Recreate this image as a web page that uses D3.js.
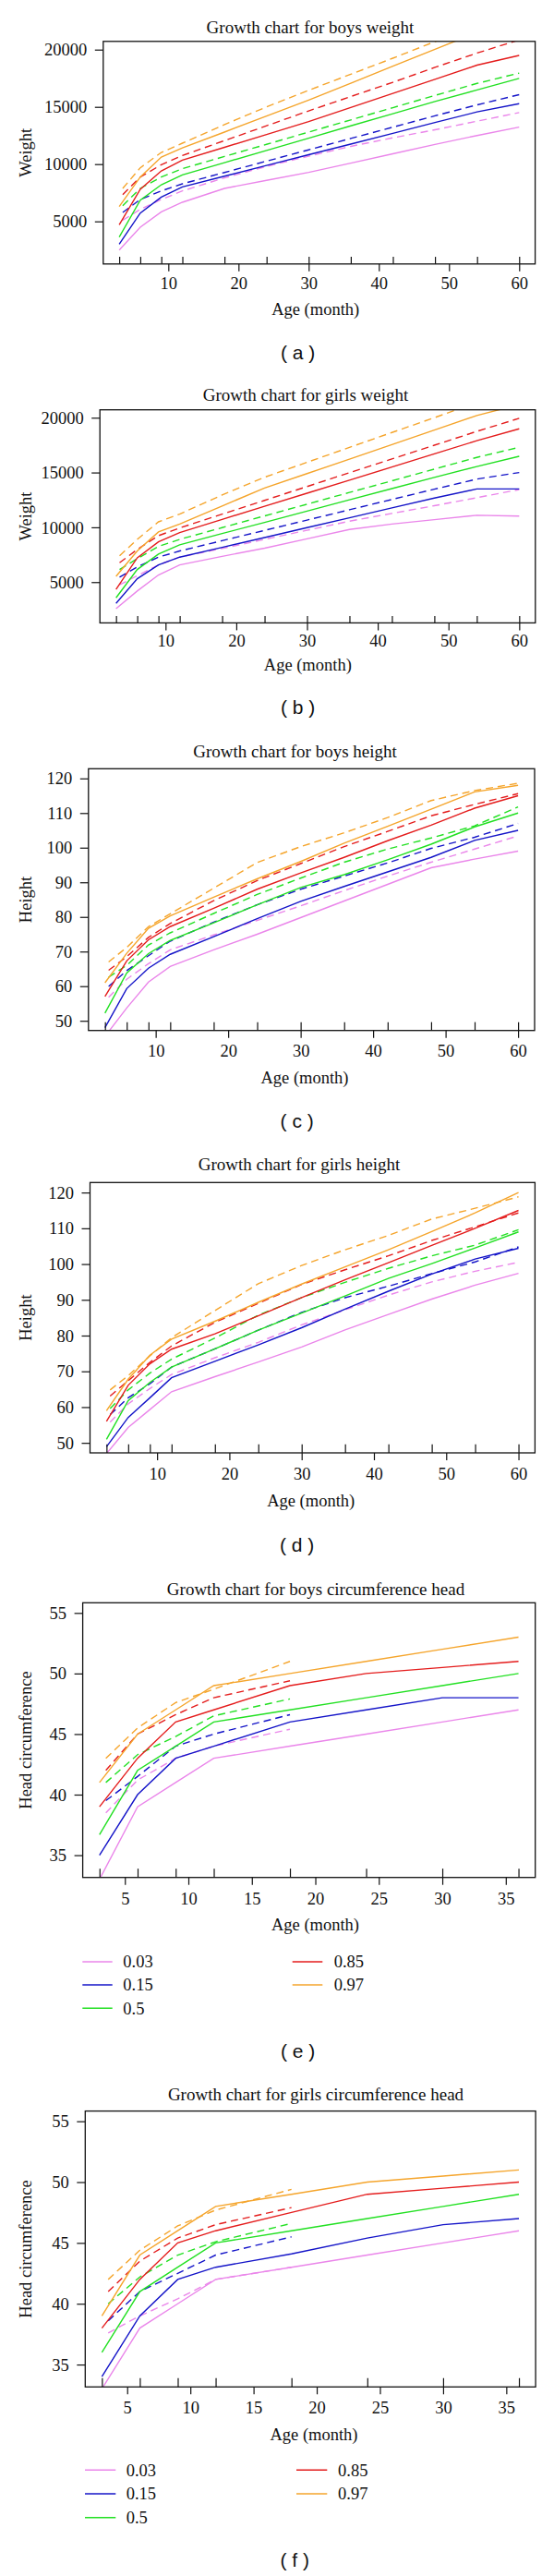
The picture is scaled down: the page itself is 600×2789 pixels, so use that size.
<!DOCTYPE html>
<html><head><meta charset="utf-8">
<script src="https://cdn.jsdelivr.net/npm/d3@7"></script>
<style>body{margin:0;background:#fff} svg{display:block}</style>
</head><body>
<svg id="chart" width="600" height="2789"></svg>
<script>
// ---------- DATA ----------
const ageMonths = [3, 6, 9, 12, 18, 24, 30, 36, 42, 48, 54, 60];
const ageMonthsRef = [3.5, 6, 9, 12, 18, 24, 30, 36, 42, 48, 54, 60];
const headAgeMonths = [3, 6, 9, 12, 18, 24, 30, 36];
const headAgeMonthsRef = [3.5, 6, 9, 12, 18];
const percentileLabels = ["0.03", "0.15", "0.5", "0.85", "0.97"];
const percentileColors = ["#EA86EA", "#1414C8", "#22E022", "#E41C1C", "#F5A52C"];

const weightTicks = [5000, 10000, 15000, 20000];
const heightTicks = [50, 60, 70, 80, 90, 100, 110, 120];
const headTicks = [35, 40, 45, 50, 55];
const ageTicks60 = [10, 20, 30, 40, 50, 60];
const ageTicks36 = [5, 10, 15, 20, 25, 30, 35];

// (a) boys weight: solid = study percentiles, dashed = reference percentiles (0.03 .. 0.97)
const boysWeightSolid = [
  [2500, 4490, 5830, 6670, 7880, 8580, 9280, 10090, 10900, 11720, 12500, 13230],
  [3010, 5730, 7120, 8010, 8950, 9880, 10820, 11750, 12690, 13630, 14560, 15280],
  [3630, 6860, 8200, 9060, 10130, 11200, 12270, 13340, 14400, 15470, 16480, 17490],
  [4710, 7800, 9410, 10350, 11470, 12590, 13710, 14940, 16180, 17410, 18650, 19490],
  [6290, 8870, 10620, 11425, 12800, 14200, 15590, 17070, 18550, 20030, 21500, 23000]
];
const boysWeightDashed = [
  [5100, 6050, 6910, 7660, 8800, 9800, 10700, 11550, 12300, 13000, 13750, 14500],
  [5780, 6910, 7660, 8280, 9270, 10260, 11250, 12240, 13230, 14220, 15170, 16070],
  [6370, 7880, 8870, 9600, 10670, 11730, 12800, 13860, 14930, 16000, 17050, 17950],
  [7340, 8870, 9950, 10750, 12050, 13350, 14650, 15900, 17150, 18450, 19700, 20850],
  [7880, 9680, 11020, 11830, 13450, 15000, 16450, 17850, 19250, 20700, 22100, 23500]
];
// (b) girls weight
const girlsWeightSolid = [
  [2580, 4190, 5650, 6570, 7350, 8100, 8950, 9800, 10300, 10700, 11100, 11020],
  [3060, 5310, 6570, 7280, 8170, 9070, 9970, 10870, 11770, 12670, 13500, 13500],
  [3570, 6150, 7560, 8400, 9430, 10450, 11480, 12510, 13530, 14560, 15550, 16480],
  [4330, 7220, 8680, 9520, 10720, 11920, 13110, 14300, 15500, 16700, 17900, 18990],
  [5530, 7840, 9580, 10300, 11950, 13580, 14900, 16220, 17540, 18870, 20200, 21200]
];
const girlsWeightDashed = [
  [4750, 5590, 6570, 7280, 8070, 8900, 9730, 10560, 11270, 11970, 12700, 13440],
  [5450, 6380, 7280, 7840, 8780, 9720, 10660, 11600, 12540, 13480, 14400, 15000],
  [6150, 7140, 8260, 8900, 9970, 11040, 12110, 13180, 14240, 15310, 16380, 17300],
  [6770, 7980, 9240, 9940, 11200, 12460, 13720, 14980, 16240, 17490, 18750, 19950],
  [7400, 8900, 10500, 11210, 12950, 14570, 15930, 17290, 18650, 20000, 21400, 22700]
];
// (c) boys height
const boysHeightSolid = [
  [45.5, 53.7, 61.2, 65.7, 70.5, 75.0, 79.8, 84.6, 89.4, 94.2, 96.7, 99.0],
  [48.0, 59.3, 65.2, 69.2, 74.3, 79.5, 84.5, 88.8, 93.0, 97.2, 102.1, 105.0],
  [52.2, 63.8, 69.4, 73.2, 78.3, 83.5, 88.5, 92.2, 96.5, 101.0, 106.0, 110.0],
  [57.0, 67.3, 73.4, 77.2, 82.5, 88.0, 92.7, 97.2, 102.0, 106.5, 111.4, 115.0],
  [61.0, 69.5, 76.7, 80.3, 85.7, 91.0, 96.0, 101.3, 106.2, 111.1, 116.1, 118.0]
];
const boysHeightDashed = [
  [56.8, 62.0, 66.5, 70.5, 74.8, 79.0, 83.2, 87.6, 91.8, 95.8, 99.6, 103.4],
  [59.9, 64.5, 68.8, 73.0, 78.5, 83.5, 88.0, 91.8, 95.6, 99.8, 103.0, 107.0],
  [62.6, 66.0, 71.9, 75.4, 81.0, 86.5, 91.2, 95.8, 99.6, 102.8, 106.3, 111.8],
  [64.6, 68.5, 74.1, 78.1, 84.7, 90.5, 95.4, 100.3, 104.7, 109.2, 112.5, 115.6],
  [67.0, 71.2, 77.2, 80.9, 88.3, 95.7, 100.3, 104.3, 108.7, 113.6, 116.5, 118.6]
];
// (d) girls height
const girlsHeightSolid = [
  [47.0, 54.3, 59.3, 64.3, 68.5, 72.6, 76.8, 81.6, 85.9, 90.2, 94.1, 97.4],
  [48.9, 57.1, 62.6, 68.2, 72.8, 77.4, 82.2, 87.4, 92.4, 97.2, 101.4, 104.4],
  [51.0, 61.8, 66.9, 71.2, 76.3, 81.5, 86.3, 91.1, 96.0, 100.1, 104.5, 109.0],
  [56.0, 66.1, 72.1, 76.2, 80.5, 85.5, 90.6, 95.6, 100.4, 105.2, 110.0, 115.0],
  [59.0, 67.8, 74.5, 79.0, 84.0, 89.3, 94.4, 99.2, 104.0, 109.1, 114.3, 120.0]
];
const girlsHeightDashed = [
  [55.8, 60.9, 65.2, 69.1, 73.8, 78.1, 83.0, 87.2, 91.3, 95.0, 98.0, 100.5],
  [57.9, 62.6, 66.5, 71.2, 76.3, 81.5, 86.5, 90.6, 93.8, 97.3, 100.6, 104.8],
  [59.6, 64.8, 69.5, 73.4, 79.3, 85.7, 90.6, 94.9, 98.8, 102.3, 105.3, 109.6],
  [63.1, 67.4, 72.5, 77.1, 83.7, 89.0, 94.3, 98.4, 102.3, 106.6, 110.4, 114.3],
  [64.8, 68.8, 74.3, 79.4, 87.0, 94.5, 99.6, 104.0, 108.0, 112.6, 115.6, 118.8]
];
// (e) boys head circumference
const boysHeadSolid = [
  [33, 39, 41, 43, 44, 45, 46, 47],
  [35, 40, 43, 44, 46, 47, 48, 48],
  [36.7, 42, 44, 46, 47, 48, 49, 50],
  [39, 43, 46, 47, 49, 50, 50.5, 51],
  [41, 45, 47, 49, 50, 51, 52, 53]
];
const boysHeadDashed = [
  [38.5, 41.2, 43.0, 44.0, 45.4],
  [39.5, 41.5, 44.0, 45.0, 46.6],
  [41.0, 43.3, 44.8, 46.5, 47.9],
  [42.0, 45.0, 46.6, 48.0, 49.4],
  [43.0, 45.5, 47.6, 48.7, 51.0]
];
// (f) girls head circumference
const girlsHeadSolid = [
  [33, 38, 40, 42, 43, 44, 45, 46],
  [34, 39, 42, 43, 44.1, 45.4, 46.5, 47],
  [36, 41, 43, 45, 46, 47, 48, 49],
  [38, 42, 45, 46, 47.5, 49, 49.5, 50],
  [39, 44, 46, 48, 49, 50, 50.5, 51]
];
const girlsHeadDashed = [
  [37.6, 39.0, 40.4, 42.0, 43.0],
  [38.6, 41.0, 42.5, 44.0, 45.5],
  [40.0, 42.2, 44.0, 45.1, 46.6],
  [41.0, 43.5, 45.4, 46.5, 47.9],
  [42.0, 44.4, 46.4, 47.7, 49.4]
];

// ---------- PANELS ----------
const panels = [
  {tag: "a", title: "Growth chart for boys weight", ylab: "Weight", solid: boysWeightSolid, dashed: boysWeightDashed,
   xs: ageMonths, xd: ageMonthsRef, xlim: [3, 60], ylim: [2000, 20000], xticks: ageTicks60, yticks: weightTicks,
   L: 111.8, R: 579.6, T: 44.8, B: 285.8, titleX: 336, titleY: 36, xlabX: 341.7, xlabY: 341, tickY: 313.4, tagX: 322.7, tagY: 388.5},
  {tag: "b", title: "Growth chart for girls weight", ylab: "Weight", solid: girlsWeightSolid, dashed: girlsWeightDashed,
   xs: ageMonths, xd: ageMonthsRef, xlim: [3, 60], ylim: [2000, 20000], xticks: ageTicks60, yticks: weightTicks,
   L: 108.2, R: 579.8, T: 443.7, B: 674.4, titleX: 331, titleY: 434.3, xlabX: 333.3, xlabY: 726, tickY: 700.4, tagX: 322.7, tagY: 772.8},
  {tag: "c", title: "Growth chart for boys height", ylab: "Height", solid: boysHeightSolid, dashed: boysHeightDashed,
   xs: ageMonths, xd: ageMonthsRef, xlim: [3, 60], ylim: [50, 120], xticks: ageTicks60, yticks: heightTicks,
   L: 95.8, R: 579.0, T: 832.3, B: 1115.7, titleX: 319.5, titleY: 820, xlabX: 330, xlabY: 1172.5, tickY: 1144.4, tagX: 321.7, tagY: 1220.5},
  {tag: "d", title: "Growth chart for girls height", ylab: "Height", solid: girlsHeightSolid, dashed: girlsHeightDashed,
   xs: ageMonths, xd: ageMonthsRef, xlim: [3, 60], ylim: [50, 120], xticks: ageTicks60, yticks: heightTicks,
   L: 97.5, R: 579.4, T: 1280.3, B: 1573, titleX: 324, titleY: 1267.3, xlabX: 336.7, xlabY: 1631, tickY: 1602.1, tagX: 321.7, tagY: 1679.8},
  {tag: "e", title: "Growth chart for boys circumference head", ylab: "Head circumference", solid: boysHeadSolid, dashed: boysHeadDashed,
   xs: headAgeMonths, xd: headAgeMonthsRef, xlim: [3, 36], ylim: [34, 55], xticks: ageTicks36, yticks: headTicks,
   L: 89.6, R: 579.7, T: 1735.3, B: 2032.7, titleX: 342, titleY: 1726.7, xlabX: 341.5, xlabY: 2090.3, tickY: 2062.1, tagX: 322.7, tagY: 2227.8,
   legend: {rows: [2124, 2149, 2174.3], cols: [[89.3, 121.7, 133.3], [316.7, 349.3, 361.7]]}},
  {tag: "f", title: "Growth chart for girls circumference head", ylab: "Head circumference", solid: girlsHeadSolid, dashed: girlsHeadDashed,
   xs: headAgeMonths, xd: headAgeMonthsRef, xlim: [3, 36], ylim: [34, 55], xticks: ageTicks36, yticks: headTicks,
   L: 92.3, R: 580.1, T: 2285.6, B: 2584.3, titleX: 342, titleY: 2274, xlabX: 340, xlabY: 2641.6, tickY: 2613.4, tagX: 319.3, tagY: 2778.8,
   legend: {rows: [2674.3, 2700, 2725.7], cols: [[92, 125.3, 136.7], [321, 354.3, 366]]}}
];

const SERIF = "'Liberation Serif', 'Times New Roman', serif";
const SANS = "'Liberation Sans', Arial, sans-serif";
const FS = 18.5;

const svg = d3.select("#chart");
svg.append("rect").attr("width", 600).attr("height", 2789).attr("fill", "#fff");

function ext(lim) { const r = lim[1] - lim[0]; return [lim[0] - 0.04 * r, lim[1] + 0.04 * r]; }

panels.forEach((p, pi) => {
  const g = svg.append("g");
  const x = d3.scaleLinear().domain(ext(p.xlim)).range([p.L, p.R]);
  const y = d3.scaleLinear().domain(ext(p.ylim)).range([p.B, p.T]);
  const clipId = "clip" + pi;
  g.append("clipPath").attr("id", clipId).append("rect")
    .attr("x", p.L).attr("y", p.T).attr("width", p.R - p.L).attr("height", p.B - p.T);

  const plot = g.append("g").attr("clip-path", `url(#${clipId})`);
  const lineS = d3.line().x((d, i) => x(p.xs[i])).y(d => y(d));
  const lineD = d3.line().x((d, i) => x(p.xd[i])).y(d => y(d));
  p.dashed.forEach((vals, k) => {
    plot.append("path").attr("d", lineD(vals)).attr("fill", "none")
      .attr("stroke", percentileColors[k]).attr("stroke-width", 1.4).attr("stroke-dasharray", "8,5");
  });
  p.solid.forEach((vals, k) => {
    plot.append("path").attr("d", lineS(vals)).attr("fill", "none")
      .attr("stroke", percentileColors[k]).attr("stroke-width", 1.4);
  });

  // rug of observed ages
  const rugLen = 0.032 * (p.B - p.T);
  g.append("g").attr("transform", `translate(0,${p.B})`)
    .call(d3.axisBottom(x).tickValues(p.xs).tickSize(-rugLen).tickFormat(""))
    .call(s => s.select(".domain").remove())
    .call(s => s.selectAll("line").attr("stroke", "#111").attr("stroke-width", 1.2));

  // x axis
  const xa = g.append("g").attr("transform", `translate(0,${p.B})`)
    .call(d3.axisBottom(x).tickValues(p.xticks).tickSize(8).tickFormat(d3.format("d")));
  xa.select(".domain").remove();
  xa.selectAll("line").attr("stroke", "#111").attr("stroke-width", 1.2);
  xa.selectAll("text").attr("y", p.tickY - p.B).attr("dy", null)
    .attr("font-family", SERIF).attr("font-size", FS).attr("fill", "#111");

  // y axis
  const ya = g.append("g").attr("transform", `translate(${p.L},0)`)
    .call(d3.axisLeft(y).tickValues(p.yticks).tickSize(9).tickPadding(8.5).tickFormat(d3.format("d")));
  ya.select(".domain").remove();
  ya.selectAll("line").attr("stroke", "#111").attr("stroke-width", 1.2);
  ya.selectAll("text").attr("dy", "0.33em")
    .attr("font-family", SERIF).attr("font-size", FS).attr("fill", "#111");

  // frame
  g.append("rect").attr("x", p.L).attr("y", p.T).attr("width", p.R - p.L).attr("height", p.B - p.T)
    .attr("fill", "none").attr("stroke", "#111").attr("stroke-width", 1.3);

  // texts
  g.append("text").attr("x", p.titleX).attr("y", p.titleY).attr("text-anchor", "middle")
    .attr("font-family", SERIF).attr("font-size", 19).attr("fill", "#111").text(p.title);
  g.append("text").attr("x", p.xlabX).attr("y", p.xlabY).attr("text-anchor", "middle")
    .attr("font-family", SERIF).attr("font-size", FS).attr("fill", "#111").text("Age (month)");
  g.append("text").attr("transform", `translate(34,${(p.T + p.B) / 2}) rotate(-90)`).attr("text-anchor", "middle")
    .attr("font-family", SERIF).attr("font-size", FS).attr("fill", "#111").text(p.ylab);
  g.append("text").attr("x", p.tagX).attr("y", p.tagY).attr("text-anchor", "middle")
    .attr("font-family", SANS).attr("font-size", 21).attr("fill", "#111").text(`( ${p.tag} )`);

  // legend
  if (p.legend) {
    percentileLabels.forEach((lab, k) => {
      const col = p.legend.cols[k < 3 ? 0 : 1];
      const ry = p.legend.rows[k < 3 ? k : k - 3];
      g.append("line").attr("x1", col[0]).attr("x2", col[1]).attr("y1", ry).attr("y2", ry)
        .attr("stroke", percentileColors[k]).attr("stroke-width", 1.4);
      g.append("text").attr("x", col[2]).attr("y", ry + 6.2)
        .attr("font-family", SERIF).attr("font-size", FS).attr("fill", "#111").text(lab);
    });
  }
});
</script>
</body></html>
